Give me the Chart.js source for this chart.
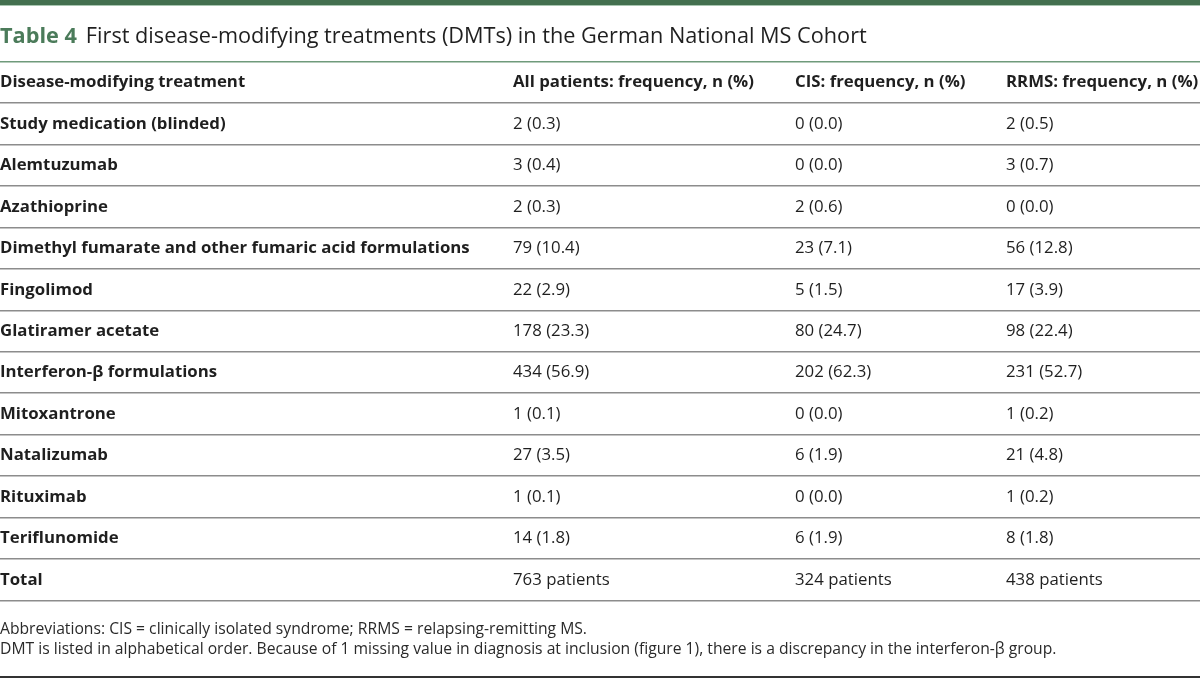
<!DOCTYPE html>
<html>
<head>
<meta charset="utf-8">
<title>Table 4</title>
<script src="https://cdn.jsdelivr.net/npm/chart.js@4/dist/chart.umd.min.js"></script>
<style>
  body { margin: 0; background: #fff; }
  #wrap { width: 1200px; height: 678px; }
</style>
</head>
<body>
<div id="wrap"><canvas id="tableChart" width="1200" height="678"></canvas></div>
<script>
// Table data
const tableLabel = 'Table 4';
const tableTitle = 'First disease-modifying treatments (DMTs) in the German National MS Cohort';
const columnHeaders = ['Disease-modifying treatment', 'All patients: frequency, n (%)', 'CIS: frequency, n (%)', 'RRMS: frequency, n (%)'];
const treatments = ['Study medication (blinded)', 'Alemtuzumab', 'Azathioprine', 'Dimethyl fumarate and other fumaric acid formulations',
    'Fingolimod', 'Glatiramer acetate', 'Interferon-β formulations', 'Mitoxantrone', 'Natalizumab', 'Rituximab', 'Teriflunomide'];
const allN = [2, 3, 2, 79, 22, 178, 434, 1, 27, 1, 14];
const allPct = [0.3, 0.4, 0.3, 10.4, 2.9, 23.3, 56.9, 0.1, 3.5, 0.1, 1.8];
const cisN = [0, 0, 2, 23, 5, 80, 202, 0, 6, 0, 6];
const cisPct = [0.0, 0.0, 0.6, 7.1, 1.5, 24.7, 62.3, 0.0, 1.9, 0.0, 1.9];
const rrmsN = [2, 3, 0, 56, 17, 98, 231, 1, 21, 1, 8];
const rrmsPct = [0.5, 0.7, 0.0, 12.8, 3.9, 22.4, 52.7, 0.2, 4.8, 0.2, 1.8];
const totalLabel = 'Total';
const totals = [763, 324, 438];
const footnotes = [
    'Abbreviations: CIS = clinically isolated syndrome; RRMS = relapsing-remitting MS.',
    'DMT is listed in alphabetical order. Because of 1 missing value in diagnosis at inclusion (figure 1), there is a discrepancy in the interferon-β group.'
];

// rows on the y scale: header, treatments, total
const rowLabels = ['header'].concat(treatments, [totalLabel]);

const FONT = '"Open Sans", "Noto Sans", sans-serif';
const GREEN = '#4b7b5a';
const TEXT = '#1f1f1f';
const colX = [0, 513, 795, 1006];
const cellFont = '16.8px ' + FONT;
const boldFont = 'bold 16.8px ' + FONT;

function cellText(n, pct) {
    return n + ' (' + pct.toFixed(1) + ')';
}

// Draws the table cells at the row positions given by the y scale
const tablePlugin = {
    id: 'tablePlugin',
    afterDraw(chart) {
        const ctx = chart.ctx;
        const y = chart.scales.y;
        const band = (y.getPixelForValue(1) - y.getPixelForValue(0));
        ctx.save();

        // top green rule
        ctx.fillStyle = '#44704f';
        ctx.fillRect(0, 0, 1200, 5);
        ctx.fillStyle = '#a9c6b1';
        ctx.fillRect(0, 5, 1200, 1);

        // title
        ctx.textBaseline = 'middle';
        ctx.textAlign = 'left';
        ctx.font = 'bold 21.7px ' + FONT;
        ctx.fillStyle = GREEN;
        ctx.fillText(tableLabel, 0, 37);
        const w = ctx.measureText(tableLabel).width;
        ctx.font = '21.7px ' + FONT;
        ctx.fillStyle = TEXT;
        ctx.fillText(tableTitle, w + 9, 37);

        // rules between rows
        for (let i = 0; i <= rowLabels.length; i++) {
            const yy = y.getPixelForValue(0) - band / 2 + i * band;
            ctx.fillStyle = i === 0 ? '#6f9a7b' : '#8c8c8c';
            ctx.fillRect(0, Math.round(yy) - 1, 1200, 1.5);
        }

        // header row
        ctx.font = boldFont;
        ctx.fillStyle = TEXT;
        const hy = y.getPixelForValue(0);
        columnHeaders.forEach((h, j) => ctx.fillText(h, colX[j], hy));

        // treatment rows
        treatments.forEach((t, i) => {
            const ry = y.getPixelForValue(i + 1);
            ctx.font = boldFont;
            ctx.fillText(t, colX[0], ry);
            ctx.font = cellFont;
            ctx.fillText(cellText(allN[i], allPct[i]), colX[1], ry);
            ctx.fillText(cellText(cisN[i], cisPct[i]), colX[2], ry);
            ctx.fillText(cellText(rrmsN[i], rrmsPct[i]), colX[3], ry);
        });

        // total row
        const ty = y.getPixelForValue(rowLabels.length - 1);
        ctx.font = boldFont;
        ctx.fillText(totalLabel, colX[0], ty);
        ctx.font = cellFont;
        totals.forEach((n, j) => ctx.fillText(n + ' patients', colX[j + 1], ty));

        // footnotes
        ctx.font = '15.7px ' + FONT;
        ctx.fillStyle = '#2a2a2a';
        ctx.fillText(footnotes[0], 0, 630);
        ctx.fillText(footnotes[1], 0, 650);

        // bottom rule
        ctx.fillStyle = '#333';
        ctx.fillRect(0, 676, 1200, 2);
        ctx.restore();
    }
};

new Chart(document.getElementById('tableChart'), {
    type: 'bar',
    data: { labels: rowLabels, datasets: [] },
    options: {
        responsive: false,
        animation: false,
        layout: { padding: { top: 62, bottom: 77.5, left: 0, right: 0 } },
        plugins: { legend: { display: false }, tooltip: { enabled: false } },
        scales: {
            x: { type: 'linear', display: false },
            y: { type: 'category', labels: rowLabels, offset: true, display: false }
        }
    },
    plugins: [tablePlugin]
});
</script>
</body>
</html>
